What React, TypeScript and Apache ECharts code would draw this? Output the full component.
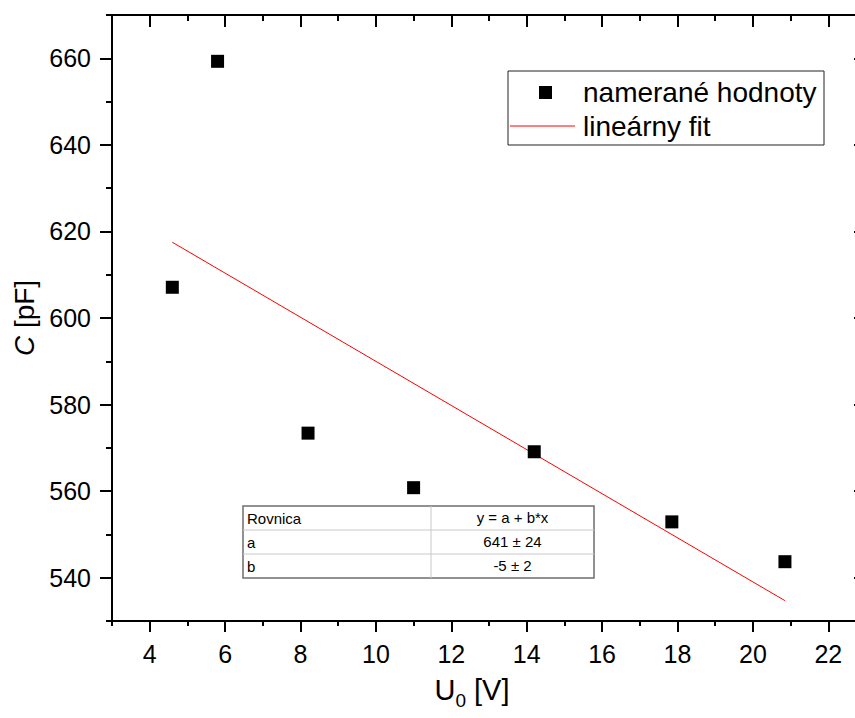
import React, { useEffect, useRef } from 'react';
import * as echarts from 'echarts';

const FONT = '"Liberation Sans", Arial, Helvetica, sans-serif';

// measured data: U0 [V] and C [pF]
const uValues = [4.6, 5.8, 8.2, 11.0, 14.2, 17.85, 20.85];
const cValues = [607.1, 659.3, 573.4, 560.8, 569.1, 552.9, 543.7];

// linear fit end points (as drawn)
const fitU = [4.6, 20.85];
const fitC = [617.5, 534.7];

// ticks
const xMajorTicks = [4, 6, 8, 10, 12, 14, 16, 18, 20, 22];
const xMinorTicks = [3, 5, 7, 9, 11, 13, 15, 17, 19, 21, 23];
const yMajorTicks = [540, 560, 580, 600, 620, 640, 660];
const yMinorTicks = [530, 550, 570, 590, 610, 630, 650, 670];

const legendNames = ['namerané hodnoty', 'lineárny fit'];
const tableRows = [
  ['Rovnica', 'y = a + b*x'],
  ['a', '641 ± 24'],
  ['b', '-5 ± 2'],
];

function makeXAxis(position: 'top' | 'bottom', ticks: number[], len: number, inside: boolean, withLine: boolean, withLabel: boolean) {
  const ax: any = {
    type: 'value',
    gridIndex: 0,
    position,
    min: 3,
    max: 23,
    axisLine: { show: withLine, onZero: false, lineStyle: { color: '#000', width: 2, opacity: 1 } },
    axisTick: { show: true, inside, length: len, customValues: ticks, lineStyle: { color: '#000', width: 2, opacity: 1 } },
    axisLabel: withLabel
      ? { show: true, customValues: ticks, fontSize: 25, fontFamily: FONT, color: '#000', margin: 20 }
      : { show: false, customValues: ticks },
    splitLine: { show: false },
    minorTick: { show: false },
  };
  return ax;
}

function makeYAxis(position: 'left' | 'right', ticks: number[], len: number, inside: boolean, withLine: boolean, withLabel: boolean) {
  const ax: any = {
    type: 'value',
    gridIndex: 0,
    position,
    min: 530,
    max: 670,
    axisLine: { show: withLine, onZero: false, lineStyle: { color: '#000', width: 2, opacity: 1 } },
    axisTick: { show: true, inside, length: len, customValues: ticks, lineStyle: { color: '#000', width: 2, opacity: 1 } },
    axisLabel: withLabel
      ? { show: true, customValues: ticks, fontSize: 25, fontFamily: FONT, color: '#000', margin: 21 }
      : { show: false, customValues: ticks },
    splitLine: { show: false },
    minorTick: { show: false },
  };
  return ax;
}

export default function App() {
  const ref = useRef<HTMLDivElement>(null);

  useEffect(() => {
    if (!ref.current) return;
    const chart = echarts.init(ref.current, undefined, { renderer: 'svg' });

    const xMain = makeXAxis('bottom', xMajorTicks, 11, false, true, true);
    xMain.name = '{a|U}{s|0}{a| [V]}';
    xMain.nameLocation = 'middle';
    xMain.nameGap = 54;
    xMain.nameTextStyle = {
      color: '#000',
      fontFamily: FONT,
      fontSize: 29,
      padding: [0, 34, 0, 0],
      rich: {
        a: { fontSize: 29, fontFamily: FONT, color: '#000', lineHeight: 35, verticalAlign: 'top' },
        s: { fontSize: 19, fontFamily: FONT, color: '#000', lineHeight: 19, verticalAlign: 'bottom' },
      },
    };

    const yMain = makeYAxis('left', yMajorTicks, 12, false, true, true);
    yMain.name = '{i|C}{n| [pF]}';
    yMain.nameLocation = 'middle';
    yMain.nameRotate = 90;
    yMain.nameGap = 70;
    yMain.nameTextStyle = {
      color: '#000',
      fontFamily: FONT,
      fontSize: 28,
      rich: {
        i: { fontSize: 28, fontFamily: FONT, fontStyle: 'italic', color: '#000' },
        n: { fontSize: 28, fontFamily: FONT, color: '#000' },
      },
    };

    const legendX = 508;
    const legendY = 71;
    const tX = 243;
    const tY = 506;
    const tW = 351;
    const rowH = 24;
    const colX = 431;

    const tableGraphics: any[] = [
      {
        type: 'rect',
        shape: { x: tX, y: tY, width: tW, height: rowH * tableRows.length },
        style: { fill: '#fff', stroke: '#6e6e6e', lineWidth: 1.5 },
        z: 10,
      },
      {
        type: 'line',
        shape: { x1: colX, y1: tY, x2: colX, y2: tY + rowH * tableRows.length },
        style: { stroke: '#c8c8c8', lineWidth: 1 },
        z: 11,
      },
    ];
    tableRows.forEach((row, i) => {
      if (i > 0) {
        tableGraphics.push({
          type: 'line',
          shape: { x1: tX, y1: tY + rowH * i, x2: tX + tW, y2: tY + rowH * i },
          style: { stroke: '#c8c8c8', lineWidth: 1 },
          z: 11,
        });
      }
      tableGraphics.push({
        type: 'text',
        style: {
          text: row[0],
          x: tX + 4,
          y: tY + rowH * i + rowH / 2,
          fontSize: 15,
          fontFamily: FONT,
          fill: '#000',
          align: 'left',
          verticalAlign: 'middle',
        },
        z: 12,
      });
      tableGraphics.push({
        type: 'text',
        style: {
          text: row[1],
          x: (colX + tX + tW) / 2,
          y: tY + rowH * i + rowH / 2 - 1,
          fontSize: 15,
          fontFamily: FONT,
          fill: '#000',
          align: 'center',
          verticalAlign: 'middle',
        },
        z: 12,
      });
    });

    const option: any = {
      animation: false,
      backgroundColor: '#fff',
      grid: {
        left: 112,
        right: -11,
        top: 15,
        bottom: 97,
        containLabel: false,
        outerBoundsMode: 'none',
      },
      xAxis: [
        xMain,
        makeXAxis('bottom', xMinorTicks, 5, false, false, false),
        makeXAxis('top', xMajorTicks, 12, true, true, false),
        makeXAxis('top', xMinorTicks, 6, true, false, false),
      ],
      yAxis: [
        yMain,
        makeYAxis('left', yMinorTicks, 6, false, false, false),
        makeYAxis('right', yMajorTicks, 12, true, true, false),
        makeYAxis('right', yMinorTicks, 6, true, false, false),
      ],
      series: [
        {
          name: legendNames[0],
          type: 'scatter',
          xAxisIndex: 0,
          yAxisIndex: 0,
          symbol: 'rect',
          symbolSize: 13,
          itemStyle: { color: '#000', opacity: 1 },
          data: uValues.map((u, i) => [u, cValues[i]]),
          z: 5,
        },
        {
          name: legendNames[1],
          type: 'line',
          xAxisIndex: 0,
          yAxisIndex: 0,
          symbol: 'none',
          lineStyle: { color: '#ff0000', width: 1 },
          data: fitU.map((u, i) => [u, fitC[i]]),
          z: 4,
        },
      ],
      graphic: [
        {
          type: 'rect',
          shape: { x: legendX, y: legendY, width: 316, height: 74 },
          style: { fill: '#fff', stroke: '#222', lineWidth: 1 },
          z: 10,
        },
        {
          type: 'rect',
          shape: { x: 539, y: 86, width: 13, height: 13 },
          style: { fill: '#000' },
          z: 11,
        },
        {
          type: 'line',
          shape: { x1: 510, y1: 126, x2: 575, y2: 126 },
          style: { stroke: '#ff0000', lineWidth: 1 },
          z: 11,
        },
        {
          type: 'text',
          style: {
            text: legendNames[0],
            x: 583,
            y: 92,
            fontSize: 28,
            fontFamily: FONT,
            fill: '#000',
            align: 'left',
            verticalAlign: 'middle',
          },
          z: 11,
        },
        {
          type: 'text',
          style: {
            text: legendNames[1],
            x: 583,
            y: 126,
            fontSize: 28,
            fontFamily: FONT,
            fill: '#000',
            align: 'left',
            verticalAlign: 'middle',
          },
          z: 11,
        },
        ...tableGraphics,
      ],
    };

    chart.setOption(option);
    return () => chart.dispose();
  }, []);

  return (
    <div
      ref={ref}
      style={{ position: 'absolute', left: 0, top: 0, width: 855, height: 718, background: '#fff' }}
    />
  );
}
